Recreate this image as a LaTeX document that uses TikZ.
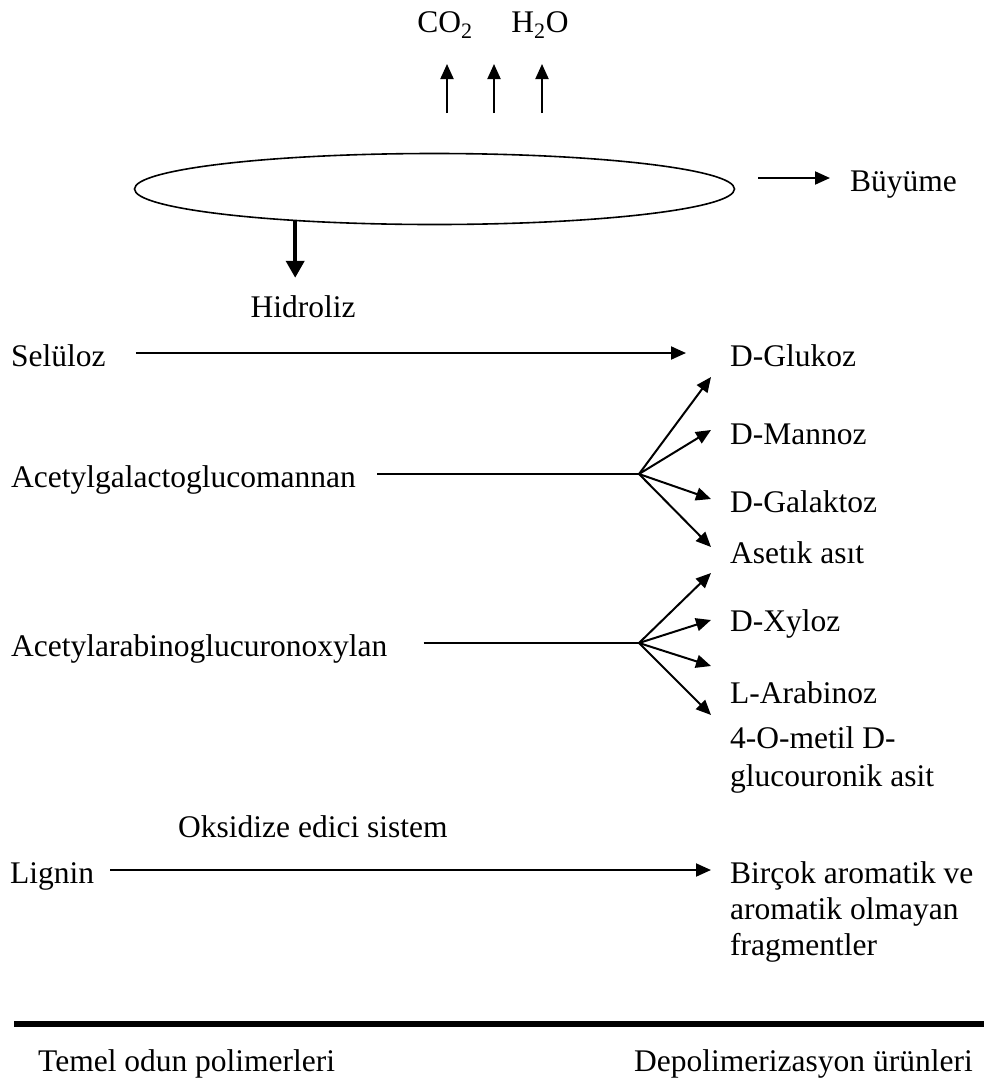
\documentclass[tikz,border=0pt]{standalone}
\usepackage{fontspec}
\setmainfont{Liberation Serif}
\usetikzlibrary{arrows.meta,shapes.geometric}
\tikzset{
  lbl/.style={inner sep=0pt, anchor=base west, text height=28pt, text depth=2pt},
  arr/.style={-{Triangle[length=15pt,width=13pt]}, line width=2pt},
  fat/.style={-{Triangle[length=17pt,width=18pt]}, line width=4pt},
}
\begin{document}
\begin{tikzpicture}[x=1pt, y=-1pt, font=\fontsize{31.5}{37}\selectfont]
    \useasboundingbox (0,0) rectangle (984,1088);
    \node[lbl, anchor=base] (co) at (445,32) {CO\textsubscript{2}};
    \node[lbl, anchor=base] (ho) at (540,32) {H\textsubscript{2}O};
    \foreach \i/\x in {1/447,2/494,3/542} {
        \coordinate (u\i) at (\x,113);
        \coordinate (v\i) at (\x,64);
        \draw[arr] (u\i) -- (v\i);
    }
    \node[draw, ellipse, line width=1.6pt, minimum width=600pt, minimum height=71pt] (cell) at (434.5,189) {};
    \node[lbl] (buy) at (850,191) {Büyüme};
    \coordinate (g) at (758,178);
    \draw[arr, shorten >=20pt] (g) -- (buy.west);
    \node[lbl, anchor=base] (hid) at (303,317) {Hidroliz};
    \draw[fat, shorten >=11pt] (cell.193.7) -- (cell.193.7 |- hid.north);

    \node[lbl] (sel) at (11,366) {Selüloz};
    \node[lbl] (glu) at (730,366) {D-Glukoz};
    \draw[arr, shorten <=30pt, shorten >=44pt] (sel.east) -- (glu.west);

    \node[lbl] (acg) at (11,487) {Acetylgalactoglucomannan};
    \node[lbl] (man) at (730,444) {D-Mannoz};
    \node[lbl] (gal) at (730,512) {D-Galaktoz};
    \node[lbl] (ase) at (730,563) {Asetık asıt};
    \coordinate (fa) at (639,474);
    \draw[line width=2pt, shorten <=21pt] (acg.east) -- (fa);
    \foreach \i/\y in {1/377,2/430,3/499,4/547} {
        \coordinate (fa\i) at (711,\y);
        \draw[arr] (fa) -- (fa\i);
    }

    \node[lbl] (arb) at (11,656) {Acetylarabinoglucuronoxylan};
    \node[lbl] (xyl) at (730,631) {D-Xyloz};
    \node[lbl] (ara) at (730,703) {L-Arabinoz};
    \node[lbl] (met) at (730,748) {4-O-metil D-};
    \node[lbl] (glc) at (730,786) {glucouronik asit};
    \coordinate (fb) at (639,643);
    \draw[line width=2pt, shorten <=36pt] (arb.east) -- (fb);
    \foreach \i/\y in {1/573,2/620,3/666,4/715} {
        \coordinate (fb\i) at (711,\y);
        \draw[arr] (fb) -- (fb\i);
    }

    \node[lbl] (oks) at (178,837) {Oksidize edici sistem};
    \node[lbl] (lig) at (10,883) {Lignin};
    \node[lbl] (bir1) at (730,883) {Birçok aromatik ve};
    \node[lbl] (bir2) at (730,919) {aromatik olmayan};
    \node[lbl] (bir3) at (730,955) {fragmentler};
    \draw[arr, shorten <=16pt, shorten >=19pt] (lig.east) -- (bir1.west);

    \draw[line width=6pt] (14,1024) -- (984,1024);
    \node[lbl] (tem) at (38,1071) {Temel odun polimerleri};
    \node[lbl] (dep) at (634,1071) {Depolimerizasyon ürünleri};
\end{tikzpicture}
\end{document}
